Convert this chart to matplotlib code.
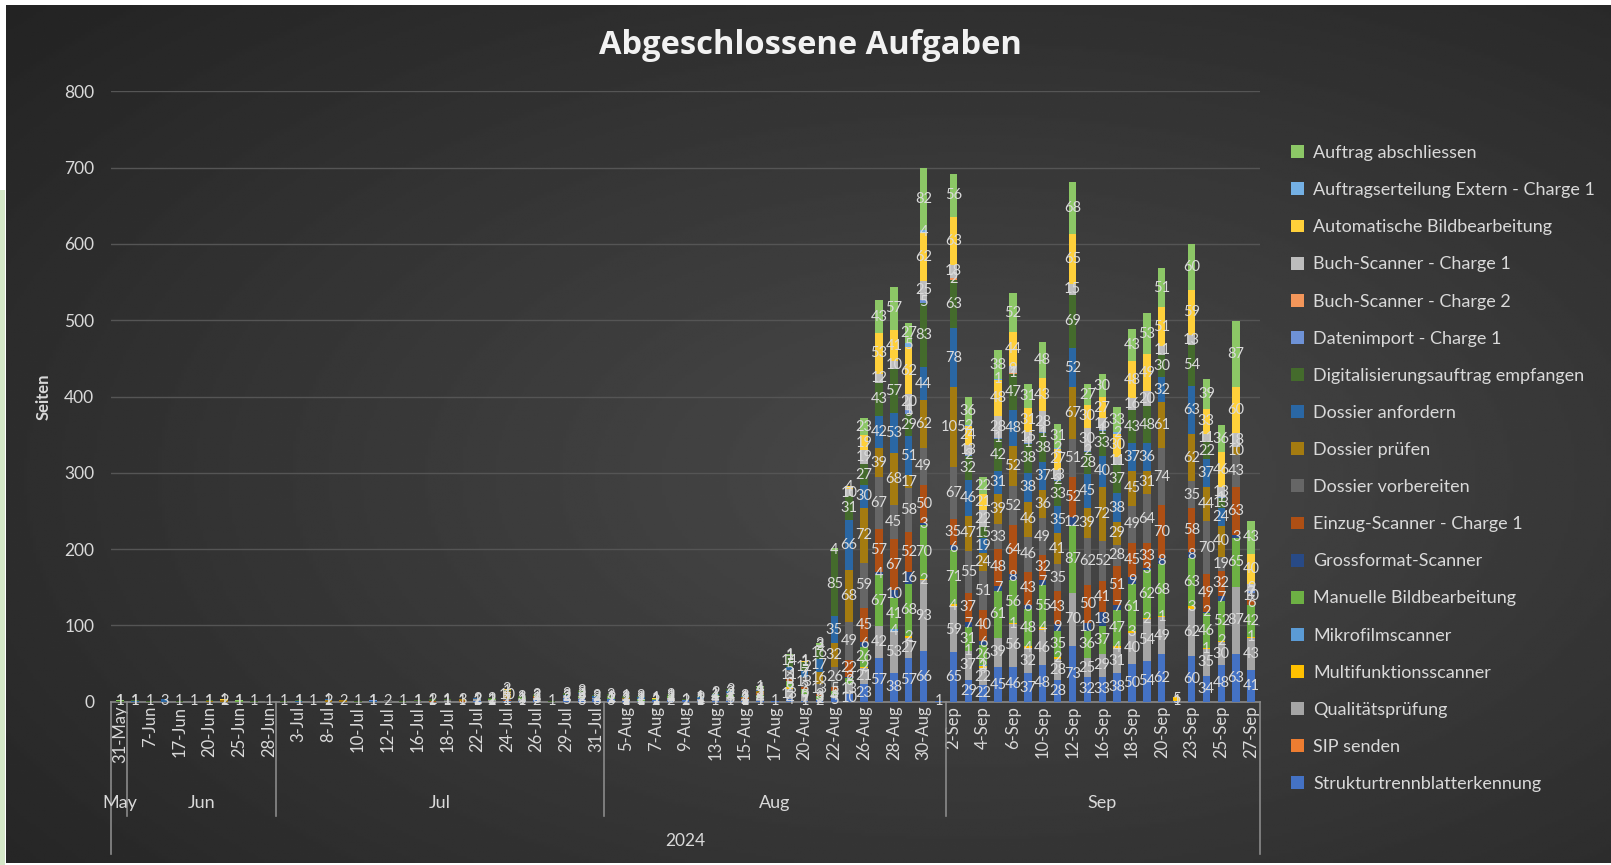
import numpy as np
import pandas as pd
import matplotlib.pyplot as plt
from matplotlib.patches import Patch, Rectangle

plt.rcParams['font.family'] = ['Lato', 'DejaVu Sans']

dates = pd.to_datetime([
    "2024-05-31", "2024-06-04", "2024-06-07", "2024-06-14", "2024-06-17", "2024-06-19",
    "2024-06-20", "2024-06-24", "2024-06-25", "2024-06-27", "2024-06-28", "2024-07-01",
    "2024-07-03", "2024-07-05", "2024-07-08", "2024-07-09", "2024-07-10", "2024-07-11",
    "2024-07-12", "2024-07-15", "2024-07-16", "2024-07-17", "2024-07-18", "2024-07-19",
    "2024-07-22", "2024-07-23", "2024-07-24", "2024-07-25", "2024-07-26", "2024-07-27",
    "2024-07-29", "2024-07-30", "2024-07-31", "2024-08-02", "2024-08-05", "2024-08-06",
    "2024-08-07", "2024-08-08", "2024-08-09", "2024-08-12", "2024-08-13", "2024-08-14",
    "2024-08-15", "2024-08-16", "2024-08-17", "2024-08-19", "2024-08-20", "2024-08-21",
    "2024-08-22", "2024-08-23", "2024-08-26", "2024-08-27", "2024-08-28", "2024-08-29",
    "2024-08-30", "2024-08-31", "2024-09-02", "2024-09-03", "2024-09-04", "2024-09-05",
    "2024-09-06", "2024-09-09", "2024-09-10", "2024-09-11", "2024-09-12", "2024-09-13",
    "2024-09-16", "2024-09-17", "2024-09-18", "2024-09-19", "2024-09-20", "2024-09-21",
    "2024-09-23", "2024-09-24", "2024-09-25", "2024-09-26", "2024-09-27",
])

z10 = [0] * 10

struktur = (z10 + z10 + [0, 0, 0, 0, 1, 0, 1, 1, 2, 0]
            + [5, 3, 3, 3, 1, 1, 2, 2, 2, 1] + [1, 1, 1, 1, 1, 4, 1, 2, 5, 10]
            + [23, 57, 38, 57, 66, 1, 65, 29, 22, 45] + [46, 37, 48, 28, 73, 32, 33, 38, 50, 54]
            + [62, 1, 60, 34, 48, 63, 41])
sip = [0] * 77
quali = (z10 + z10 + [0, 0, 1, 0, 2, 2, 0, 3, 3, 0]
         + [2, 2, 2, 1, 2, 0, 0, 3, 0, 2] + [4, 5, 2, 4, 0, 13, 9, 2, 4, 13]
         + [21, 42, 53, 27, 93, 0, 59, 37, 22, 39] + [56, 32, 46, 28, 70, 25, 29, 31, 40, 54]
         + [49, 0, 62, 35, 30, 87, 43])
multi = (z10 * 4 + [0, 0, 0, 0, 0, 2, 0, 0, 0, 0]
         + [2, 0, 0, 2, 2, 0, 4, 1, 3, 0] + [1, 4, 4, 2, 0, 0, 0, 4, 3, 2]
         + [1, 5, 3, 1, 2, 0, 1])
mikro = z10 * 5 + [0, 0, 4, 0, 0, 0, 0, 0, 1, 0] + z10 + [0] * 7
manuell = ([0, 0, 0, 0, 0, 0, 0, 0, 1, 0] + z10 + [0, 0, 0, 0, 0, 1, 0, 1, 0, 0]
           + [0, 2, 0, 2, 0, 2, 1, 2, 0, 1] + [4, 3, 0, 4, 0, 8, 6, 3, 5, 8]
           + [26, 67, 41, 68, 70, 0, 71, 31, 26, 61] + [56, 48, 55, 35, 87, 36, 37, 47, 61, 62]
           + [68, 0, 63, 46, 52, 65, 42])
gross = (z10 * 4 + [0, 0, 0, 0, 0, 0, 0, 0, 0, 2]
         + [6, 4, 10, 16, 3, 0, 6, 7, 6, 7] + [8, 6, 7, 9, 12, 10, 18, 7, 9, 3]
         + [8, 0, 8, 2, 7, 3, 0])
einzug = (z10 + z10 + [0, 1, 0, 1, 0, 0, 1, 0, 1, 0]
          + [0, 0, 0, 0, 1, 1, 0, 0, 0, 0] + [0, 0, 2, 2, 0, 3, 3, 3, 5, 22]
          + [45, 57, 67, 52, 50, 0, 35, 37, 40, 48] + [64, 43, 32, 43, 52, 50, 41, 51, 45, 33]
          + [70, 0, 58, 49, 32, 63, 6])
vorbereiten = ([0, 0, 0, 0, 0, 1, 0, 0, 0, 0] + [1, 0, 0, 1, 0, 0, 0, 0, 2, 0]
               + [1, 0, 1, 0, 0, 0, 2, 0, 0, 0] + [0, 3, 0, 1, 0, 0, 0, 0, 0, 0]
               + [0, 2, 0, 0, 0, 11, 13, 13, 26, 49]
               + [59, 67, 45, 58, 49, 0, 67, 55, 51, 33] + [52, 46, 49, 35, 51, 62, 52, 28, 49, 64]
               + [74, 0, 35, 70, 19, 43, 10])
pruefen = ([0, 0, 0, 0, 0, 0, 1, 2, 0, 0] + [0, 0, 0, 0, 2, 2, 0, 0, 0, 0]
           + [0, 0, 0, 3, 0, 0, 10, 0, 2, 0] + [0, 0, 0, 0, 1, 0, 0, 0, 0, 0]
           + [0, 0, 1, 3, 0, 0, 1, 16, 32, 68]
           + [72, 39, 68, 17, 62, 0, 105, 47, 24, 39] + [52, 46, 36, 41, 67, 39, 72, 29, 45, 31]
           + [61, 0, 62, 44, 40, 10, 0])
anfordern = ([0, 1, 0, 3, 0, 0, 0, 0, 0, 0] + [0, 0, 1, 0, 1, 0, 0, 1, 0, 0]
             + [0, 0, 0, 0, 2, 0, 0, 0, 0, 0] + [2, 2, 2, 0, 0, 2, 0, 1, 0, 2]
             + [1, 3, 1, 1, 0, 5, 7, 17, 35, 66]
             + [30, 42, 53, 51, 44, 0, 78, 46, 19, 31] + [48, 38, 37, 35, 52, 45, 40, 38, 37, 36]
             + [32, 0, 63, 37, 24, 0, 0])
digital = ([1, 1, 1, 0, 1, 0, 1, 0, 0, 1] + [0, 1, 1, 0, 0, 0, 1, 0, 0, 1]
           + [1, 2, 1, 0, 0, 2, 1, 3, 2, 1] + [3, 3, 2, 3, 2, 2, 1, 2, 1, 1]
           + [2, 2, 2, 4, 0, 14, 12, 16, 85, 31]
           + [27, 43, 57, 29, 83, 0, 63, 32, 15, 42] + [47, 38, 38, 33, 69, 28, 33, 37, 43, 48]
           + [30, 0, 54, 22, 13, 0, 0])
datenimport = (z10 + [0, 0, 0, 0, 0, 0, 0, 1, 0, 0] + z10 * 3
               + [0, 0, 0, 5, 5, 0, 0, 2, 0, 1] + [0, 1, 1, 2, 0, 2, 1, 0, 0, 0]
               + [0, 0, 0, 0, 1, 0, 2])
buch2 = z10 * 5 + [0, 0, 0, 1, 0, 0, 2, 0, 0, 0] + [1, 0, 0, 0, 0, 0, 0, 0, 0, 0] + [0] * 7
buch1 = (z10 * 4 + [0, 0, 0, 0, 0, 1, 0, 2, 0, 10]
         + [19, 12, 10, 20, 25, 0, 18, 13, 22, 28] + [9, 15, 28, 13, 15, 30, 16, 11, 16, 20]
         + [11, 0, 13, 11, 13, 18, 9])
auto_bild = ([0, 0, 0, 0, 0, 0, 0, 1, 0, 0] + z10 + [0, 0, 0, 0, 0, 0, 2, 0, 0, 0]
             + [0, 0, 0, 0, 0, 0, 1, 0, 0, 0] + [0, 0, 0, 0, 0, 0, 1, 0, 0, 4]
             + [19, 53, 41, 62, 62, 0, 63, 24, 21, 48] + [44, 31, 43, 27, 65, 30, 27, 30, 48, 49]
             + [51, 0, 59, 33, 46, 60, 40])
extern = (z10 * 5 + [0, 0, 0, 5, 4, 0, 0, 2, 0, 1] + [0, 0, 0, 2, 0, 0, 0, 2, 0, 0]
          + [0] * 7)
abschliessen = ([1, 0, 0, 0, 0, 0, 0, 0, 1, 0] + z10 + z10
                + [0, 0, 0, 0, 1, 0, 0, 0, 0, 0] + [0, 0, 0, 1, 0, 1, 1, 3, 4, 0]
                + [23, 43, 57, 27, 82, 0, 56, 36, 22, 38] + [52, 31, 48, 31, 68, 27, 30, 33, 43, 53]
                + [51, 0, 60, 39, 36, 87, 43])

# stacking order bottom -> top
series = [
    ("Strukturtrennblatterkennung", struktur, "#4472C4"),
    ("SIP senden", sip, "#ED7D31"),
    ("Qualitätsprüfung", quali, "#A5A5A5"),
    ("Multifunktionsscanner", multi, "#FFC000"),
    ("Mikrofilmscanner", mikro, "#5B9BD5"),
    ("Manuelle Bildbearbeitung", manuell, "#6DB044"),
    ("Grossformat-Scanner", gross, "#284A86"),
    ("Einzug-Scanner - Charge 1", einzug, "#AE4F14"),
    ("Dossier vorbereiten", vorbereiten, "#666666"),
    ("Dossier prüfen", pruefen, "#A47B10"),
    ("Dossier anfordern", anfordern, "#2A67A4"),
    ("Digitalisierungsauftrag empfangen", digital, "#446B2C"),
    ("Datenimport - Charge 1", datenimport, "#6E92D6"),
    ("Buch-Scanner - Charge 2", buch2, "#F3965A"),
    ("Buch-Scanner - Charge 1", buch1, "#BDBDBD"),
    ("Automatische Bildbearbeitung", auto_bild, "#FFD03A"),
    ("Auftragserteilung Extern - Charge 1", extern, "#74B0E4"),
    ("Auftrag abschliessen", abschliessen, "#8CC766"),
]

W, H = 1611, 865
fig = plt.figure(figsize=(W / 100, H / 100), dpi=100, facecolor="white")

# dark chart background with soft radial shading
bg = fig.add_axes([6 / W, 2 / H, 1 - 6 / W, 1 - 7 / H], zorder=0)
yy, xx = np.mgrid[0:1:300j, 0:1:500j]
r = np.sqrt(((xx - 0.6) / 0.8) ** 2 + ((yy - 0.55) / 0.8) ** 2)
bg.imshow(0.29 - 0.15 * r, cmap="gray", vmin=0, vmax=1, aspect="auto",
          extent=(0, 1, 0, 1), origin="upper")
bg.set_axis_off()
fig.patches.append(Rectangle((0, 0), 5 / W, 1 - 190 / H, transform=fig.transFigure,
                             facecolor="#D5E8C8", edgecolor="none", zorder=1))

ax = fig.add_axes([111 / W, 1 - 701.7 / H, 1149 / W, 610.3 / H], zorder=2)
ax.set_facecolor("none")
x = np.arange(len(dates))
bottom = np.zeros(len(dates))
handles = []
for name, vals, col in series:
    vals = np.array(vals)
    bars = ax.bar(x, vals, bottom=bottom, width=0.5, color=col, zorder=3)
    ax.bar_label(bars, labels=[str(v) if v else "" for v in vals], label_type="center",
                 color="#DADADA", fontsize=10.5, zorder=4)
    bottom += vals
    handles.append(Patch(facecolor=col, label=name))

ax.set_ylim(0, 800)
ax.set_xlim(-0.6, 76.6)
ax.set_yticks(range(0, 801, 100))
ax.yaxis.grid(True, color="#555555", linewidth=1)
ax.set_axisbelow(True)
for s in ["top", "right", "left"]:
    ax.spines[s].set_visible(False)
ax.spines["bottom"].set_color("#8A8A8A")
ax.spines["bottom"].set_linewidth(1.2)
ax.tick_params(axis="y", length=0, pad=12, labelsize=12.5, labelcolor="#D9D9D9")
ax.set_ylabel("Seiten", color="#D9D9D9", fontsize=12, fontweight="bold", labelpad=9)

ticks = x[::2]
ax.set_xticks(ticks)
ax.set_xticklabels([f"{d.day}-{d.strftime('%b')}" for d in dates[::2]], rotation=90,
                   fontsize=12, color="#D9D9D9")
ax.tick_params(axis="x", length=0, pad=3)

tr = ax.get_xaxis_transform()
months = dates.strftime("%b")
starts = [0] + [i for i in range(1, len(dates)) if months[i] != months[i - 1]]
ends = starts[1:] + [len(dates)]
for s, e in zip(starts, ends):
    ax.text((s + e - 1) / 2, -0.166, months[s], transform=tr, ha="center", va="center",
            fontsize=13, color="#D9D9D9")
for s in starts[1:]:
    ax.plot([s - 0.5, s - 0.5], [0, -0.188], transform=tr, color="#8A8A8A", lw=1.2,
            clip_on=False)
for xe in [-0.6, 76.6]:
    ax.plot([xe, xe], [0, -0.25], transform=tr, color="#8A8A8A", lw=1.2, clip_on=False)
ax.text(38, -0.228, "2024", transform=tr, ha="center", va="center", fontsize=12.5,
        color="#D9D9D9")

fig.text(810 / W, 1 - 46 / H, "Abgeschlossene Aufgaben", ha="center", va="center",
         fontsize=23.5, fontweight="bold", color="#F2F2F2", family="Open Sans")

fig.legend(handles=handles[::-1], loc="upper left", bbox_to_anchor=(1291 / W, 1 - 145 / H),
           frameon=False, fontsize=13, labelcolor="#D9D9D9", handlelength=0.72,
           handleheight=0.72, handletextpad=0.5, labelspacing=1.17, borderpad=0,
           borderaxespad=0)

fig.savefig("out.png", dpi=100, facecolor="white")
